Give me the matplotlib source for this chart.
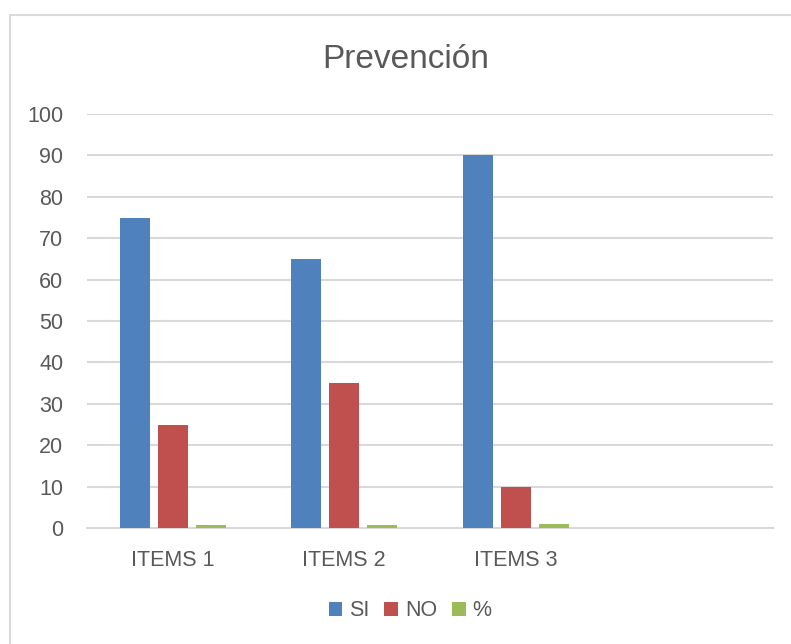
import matplotlib
matplotlib.use("Agg")
import matplotlib.pyplot as plt
from matplotlib.patches import Rectangle, Patch
import numpy as np

# data
categories = ["ITEMS 1", "ITEMS 2", "ITEMS 3", ""]
si = [75, 65, 90, 0]
no = [25, 35, 10, 0]
pct = [0.75, 0.65, 0.9, 0]
series_names = ["SI", "NO", "%"]
colors = ["#4F81BD", "#C0504D", "#9BBB59"]

plt.rcParams['font.family'] = ['Liberation Sans', 'DejaVu Sans']
TXT = "#595959"

fig = plt.figure(figsize=(7.91, 6.44), dpi=100)
W, H = 791, 644

# outer chart border
fig.patches.append(Rectangle((10 / W, -0.05), 1.0, 1 - 15 / H + 0.05,
                             transform=fig.transFigure, fill=False,
                             edgecolor="#d9d9d9", linewidth=1.5))

# plot area in pixels: left 87, right 773, top 114 (100), bottom 528 (0)
ax = fig.add_axes([87 / W, 1 - 528 / H, (773 - 87) / W, (528 - 114) / H])

x = np.arange(len(categories))
bw = 0.175
step = 0.222
for i, (vals, name, c) in enumerate(zip([si, no, pct], series_names, colors)):
    ax.bar(x + (i - 1) * step, vals, width=bw, color=c, label=name, zorder=3)

ax.set_xlim(-0.5, 3.5)
ax.set_ylim(0, 100)
ax.set_yticks(range(0, 101, 10))
ax.set_xticks(x)
ax.set_xticklabels(categories)
ax.grid(axis='y', color="#d9d9d9", linewidth=1.5, zorder=0)
for s in ["top", "right", "left"]:
    ax.spines[s].set_visible(False)
ax.spines["bottom"].set_color("#d9d9d9")
ax.spines["bottom"].set_linewidth(1.5)
ax.tick_params(axis='both', length=0, labelsize=15.5, colors=TXT)
ax.tick_params(axis='y', pad=17)
ax.tick_params(axis='x', pad=16)

fig.text(406 / W, 1 - 60 / H, "Prevención", ha="center", va="center",
         fontsize=24, color=TXT)

handles = [Patch(facecolor=c, label=n) for c, n in zip(colors, series_names)]
fig.legend(handles=handles, loc="center", bbox_to_anchor=(410 / W, 1 - 611 / H),
           ncol=3, frameon=False, fontsize=15.5, labelcolor=TXT,
           handlelength=0.65, handleheight=0.65, handletextpad=0.3,
           columnspacing=0.7, borderpad=0)

fig.savefig("out.png", dpi=100)
